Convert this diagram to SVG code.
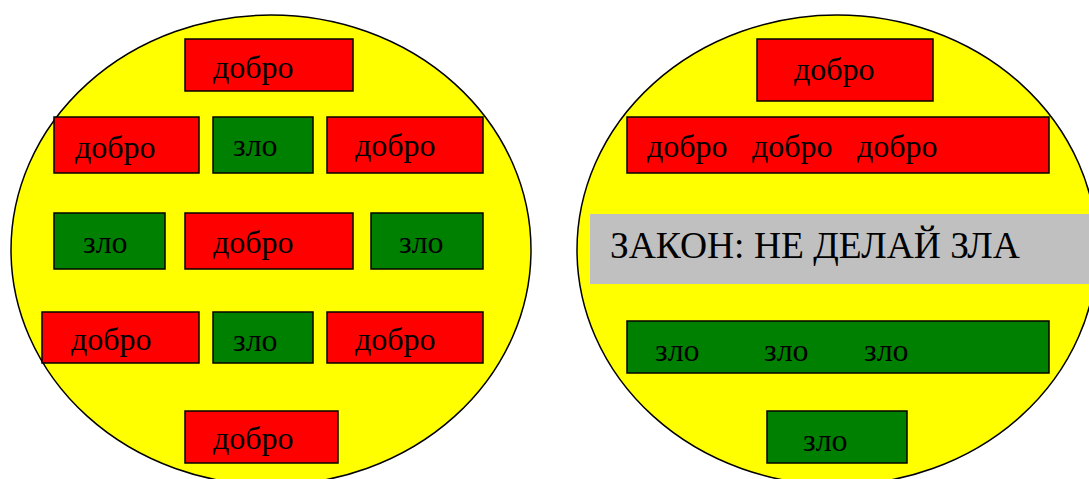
<svg xmlns="http://www.w3.org/2000/svg" width="1089" height="479" viewBox="0 0 1089 479">
<style>
.ell{fill:#FFFF00;stroke:#000;stroke-width:1.5}
.r{fill:#FF0000;stroke:#000;stroke-width:1.5}
.g{fill:#008000;stroke:#000;stroke-width:1.5}
.law{fill:#C0C0C0;stroke:none}
text{font-family:"Liberation Serif","Times New Roman",serif;font-size:32px;fill:#000}
.big{font-size:37.5px}
</style>
<rect width="1089" height="479" fill="#fff"/>
<g id="left-world">
<ellipse class="ell" cx="271" cy="250" rx="260" ry="235"/>
</g>
<g id="right-world">
<ellipse class="ell" cx="837" cy="250" rx="260" ry="235"/>
</g>
<g id="l1"><rect class="r" x="185" y="39" width="168" height="52"/><text x="213" y="78">добро</text></g>
<g id="l2a"><rect class="r" x="54" y="117" width="145" height="56"/><text x="75" y="158">добро</text></g>
<g id="l2b"><rect class="g" x="213" y="117" width="100" height="56"/><text x="233" y="156">зло</text></g>
<g id="l2c"><rect class="r" x="327" y="117" width="156" height="56"/><text x="355" y="156">добро</text></g>
<g id="l3a"><rect class="g" x="54" y="213" width="111" height="56"/><text x="83" y="253">зло</text></g>
<g id="l3b"><rect class="r" x="185" y="213" width="168" height="56"/><text x="213" y="253">добро</text></g>
<g id="l3c"><rect class="g" x="371" y="213" width="112" height="56"/><text x="399" y="253">зло</text></g>
<g id="l4a"><rect class="r" x="42" y="312" width="157" height="51"/><text x="71" y="350">добро</text></g>
<g id="l4b"><rect class="g" x="213" y="312" width="100" height="51"/><text x="233" y="351">зло</text></g>
<g id="l4c"><rect class="r" x="327" y="312" width="156" height="51"/><text x="355" y="350">добро</text></g>
<g id="l5"><rect class="r" x="185" y="411" width="153" height="52"/><text x="213" y="449">добро</text></g>
<g id="r1"><rect class="r" x="757" y="39" width="176" height="62"/><text x="794" y="80">добро</text></g>
<g id="r2"><rect class="r" x="627" y="117" width="422" height="56"/><text x="647" y="157">добро</text><text x="752" y="157">добро</text><text x="857" y="157">добро</text></g>
<g id="law"><rect class="law" x="590" y="214" width="499" height="70"/><text class="big" x="610" y="258">ЗАКОН: НЕ ДЕЛАЙ ЗЛА</text></g>
<g id="r3"><rect class="g" x="627" y="321" width="422" height="52"/><text x="655" y="361">зло</text><text x="764" y="361">зло</text><text x="864" y="361">зло</text></g>
<g id="r4"><rect class="g" x="767" y="411" width="140" height="52"/><text x="803" y="451">зло</text></g>
<g id="connectors"></g>
</svg>
